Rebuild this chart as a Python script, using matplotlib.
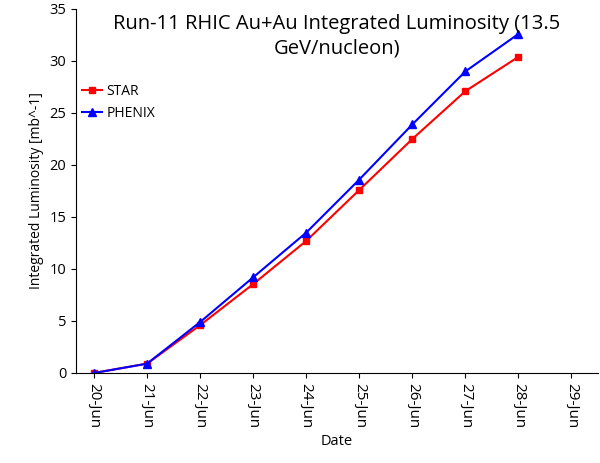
import matplotlib
matplotlib.use("Agg")
import matplotlib.pyplot as plt

dates = ["20-Jun","21-Jun","22-Jun","23-Jun","24-Jun","25-Jun","26-Jun","27-Jun","28-Jun","29-Jun"]
star = [0, 0.9, 4.6, 8.55, 12.7, 17.6, 22.5, 27.1, 30.4]
phenix = [0, 0.9, 4.9, 9.2, 13.5, 18.6, 23.9, 29.0, 32.6]

plt.rcParams['font.family'] = ['Open Sans', 'DejaVu Sans']
fig = plt.figure(figsize=(6, 4.63), dpi=100)
ax = fig.add_axes([76/600, 1-373/463, (598-76)/600, (373-9)/463])
x = list(range(len(star)))
ax.plot(x, star, color='#ff0000', marker='s', markersize=5, lw=1.5, label='STAR')
ax.plot(x, phenix, color='#0000ff', marker='^', markersize=6, lw=1.5, label='PHENIX')
ax.set_xlim(-0.34, 9.5)
ax.set_ylim(0, 35)
ax.set_yticks(range(0, 36, 5))
ax.set_xticks(range(len(dates)))
ax.set_xticklabels(dates, rotation=270, fontsize=11)
ax.tick_params(axis='y', labelsize=10.5)
ax.tick_params(direction='out')
for s in ['top', 'right']:
    ax.spines[s].set_visible(False)
ax.set_ylabel('Integrated Luminosity [mb^-1]', fontsize=10)
ax.set_xlabel('Date', fontsize=10.5)
ax.text(0.5, 0.985, 'Run-11 RHIC Au+Au Integrated Luminosity (13.5\nGeV/nucleon)',
        transform=ax.transAxes, ha='center', va='top', fontsize=14.5, linespacing=1.25)
ax.legend(loc='upper left', bbox_to_anchor=(0.0, 0.81), frameon=False, fontsize=10,
          handlelength=1.5, handletextpad=0.3, borderaxespad=0)
fig.savefig('out.png', dpi=100)
